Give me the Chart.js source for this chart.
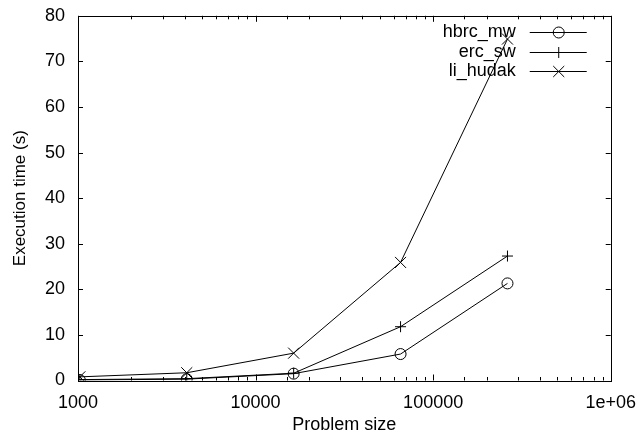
<!DOCTYPE html>
<html>
<head>
<meta charset="utf-8">
<script src="https://cdn.jsdelivr.net/npm/chart.js@4/dist/chart.umd.min.js"></script>
<style>
  body { margin: 0; background: #fff; }
  #wrap { width: 640px; height: 444px; }
</style>
</head>
<body>
<div id="wrap"><canvas id="Grafico" width="640" height="444"></canvas></div>
<script>
'use strict';
// valores
const problemSizes = [1024, 4096, 16384, 65536, 262144];
const hbrcMw = [0.1, 0.3, 1.5, 5.8, 21.3];
const ercSw = [0.2, 0.4, 1.6, 11.8, 27.3];
const liHudak = [0.8, 1.7, 6.0, 25.9, 74.9];
const seriesNames = ['hbrc_mw', 'erc_sw', 'li_hudak'];
const xTickLabels = { 1000: '1000', 10000: '10000', 100000: '100000', 1000000: '1e+06' };

const FAMILIA = '"Liberation Sans", Arial, Helvetica, sans-serif';
const FONT = { family: FAMILIA, size: 18 };
const FONT_Y = { family: FAMILIA, size: 17 };

function pontos(valores) {
  return problemSizes.map((x, i) => ({ x: x, y: valores[i] }));
}

function serie(nome, valores, estilo, raio) {
  return {
    label: nome,
    data: pontos(valores),
    borderColor: '#000',
    borderWidth: 1,
    backgroundColor: 'rgba(0,0,0,0)',
    pointStyle: estilo,
    pointRadius: raio,
    pointBorderColor: '#000',
    pointBackgroundColor: 'rgba(0,0,0,0)',
    pointBorderWidth: 1,
    tension: 0,
    fill: false
  };
}

// desenha marcador manualmente (legenda)
function marcador(ctx, estilo, x, y, r) {
  ctx.beginPath();
  if (estilo === 'circle') {
    ctx.arc(x, y, r, 0, Math.PI * 2);
  } else if (estilo === 'cross') {
    ctx.moveTo(x - r, y); ctx.lineTo(x + r, y);
    ctx.moveTo(x, y - r); ctx.lineTo(x, y + r);
  } else {
    const d = r * Math.SQRT1_2;
    ctx.moveTo(x - d, y - d); ctx.lineTo(x + d, y + d);
    ctx.moveTo(x - d, y + d); ctx.lineTo(x + d, y - d);
  }
  ctx.stroke();
}

// moldura, ticks internos e legenda estilo gnuplot
const estiloGnuplot = {
  id: 'estiloGnuplot',
  afterDraw(chart) {
    const ctx = chart.ctx;
    const a = chart.chartArea;
    const xs = chart.scales.x;
    const ys = chart.scales.y;
    ctx.save();
    ctx.strokeStyle = '#000';
    ctx.lineWidth = 1;
    ctx.strokeRect(Math.round(a.left) + 0.5, Math.round(a.top) + 0.5,
      Math.round(a.right - a.left), Math.round(a.bottom - a.top));
    ctx.beginPath();
    xs.ticks.forEach(t => {
      const px = Math.round(xs.getPixelForValue(t.value)) + 0.5;
      const len = xTickLabels[t.value] ? 6 : 3.5;
      ctx.moveTo(px, a.bottom); ctx.lineTo(px, a.bottom - len);
      ctx.moveTo(px, a.top); ctx.lineTo(px, a.top + len);
    });
    ys.ticks.forEach(t => {
      const py = Math.round(ys.getPixelForValue(t.value)) + 0.5;
      ctx.moveTo(a.left, py); ctx.lineTo(a.left + 5, py);
      ctx.moveTo(a.right, py); ctx.lineTo(a.right - 5, py);
    });
    ctx.stroke();

    // legenda
    ctx.font = FONT.size + 'px ' + FONT.family;
    ctx.textAlign = 'right';
    ctx.textBaseline = 'middle';
    ctx.fillStyle = '#000';
    chart.data.datasets.forEach((ds, i) => {
      const y = Math.round(a.top + 16.5 + i * 19.2) + 0.5;
      ctx.fillText(ds.label, a.right - 95, y);
      ctx.beginPath();
      ctx.moveTo(a.right - 81, y); ctx.lineTo(a.right - 24, y);
      ctx.stroke();
      marcador(ctx, ds.pointStyle, a.right - 52, y, ds.pointStyle === 'crossRot' ? 7.8 : 5.5);
    });
    ctx.restore();
  }
};

const ctx = document.getElementById('Grafico');
new Chart(ctx, {
  type: 'line',
  data: {
    datasets: [
      serie(seriesNames[0], hbrcMw, 'circle', 5.5),
      serie(seriesNames[1], ercSw, 'cross', 5.5),
      serie(seriesNames[2], liHudak, 'crossRot', 7.8)
    ]
  },
  options: {
    responsive: false,
    animation: false,
    devicePixelRatio: 1,
    layout: { padding: { left: 0, right: 28, top: 11, bottom: 0 } },
    plugins: { legend: { display: false }, tooltip: { enabled: false } },
    scales: {
      x: {
        type: 'logarithmic',
        min: 1000,
        max: 1000000,
        grid: { display: false },
        border: { display: false },
        ticks: {
          color: '#000',
          font: FONT,
          padding: 4,
          autoSkip: false,
          maxRotation: 0,
          callback: (v) => xTickLabels[v] || ''
        },
        title: { display: true, text: 'Problem size', color: '#000', font: FONT, padding: { top: 4, bottom: 8 } },
        afterFit(scale) { scale.height = 63.5; }
      },
      y: {
        min: 0,
        max: 80,
        grid: { display: false },
        border: { display: false },
        ticks: { stepSize: 10, color: '#000', font: FONT, padding: 5 },
        title: { display: true, text: 'Execution time (s)', color: '#000', font: FONT_Y, padding: { top: 10, bottom: 4 } },
        afterFit(scale) { scale.width = 78; }
      }
    }
  },
  plugins: [estiloGnuplot]
});
</script>
</body>
</html>
